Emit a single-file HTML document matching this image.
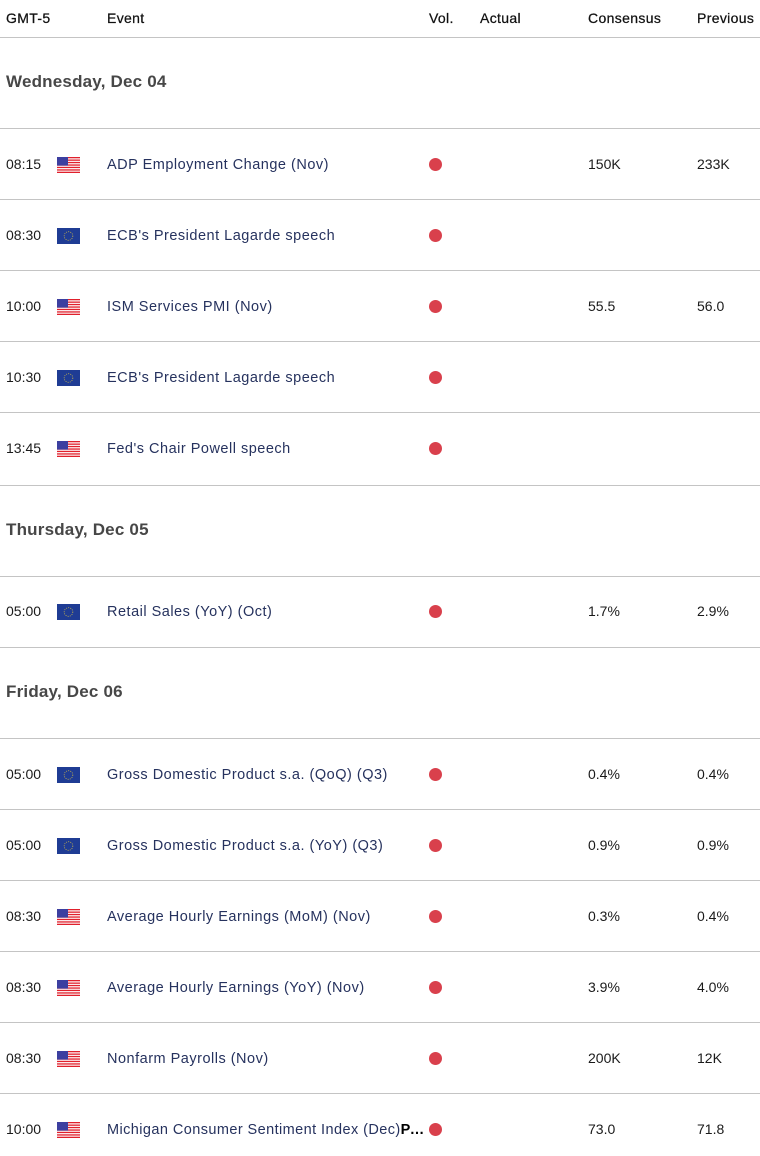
<!DOCTYPE html>
<html>
<head>
<meta charset="utf-8">
<style>
html,body{margin:0;padding:0;background:#fff;}
body{width:760px;height:1156px;position:relative;overflow:hidden;font-family:"Liberation Sans",sans-serif;}
.t{position:absolute;height:20px;line-height:20px;white-space:nowrap;font-size:14px;color:#1a1a1a;}
.h{color:#111;font-size:14px;letter-spacing:0.35px;-webkit-text-stroke:0.25px #111;}
.day{font-size:17px;font-weight:bold;color:#474747;letter-spacing:0.2px;}
.ev{color:#26325e;font-size:14.5px;letter-spacing:0.5px;margin-top:1px;}
.num{font-size:14px;color:#1a1a1a;letter-spacing:0;}
.line{position:absolute;left:0;width:760px;height:1px;background:#c4c4c4;}
.dot{position:absolute;width:13px;height:13px;border-radius:50%;background:#d9404c;}
.flag{position:absolute;width:23px;height:16px;}
</style>
</head>
<body>
<svg width="0" height="0" style="position:absolute">
<defs>
<symbol id="us" viewBox="0 0 23 16">
<rect width="23" height="16" fill="#fff"/>
<rect y="0" width="23" height="1.3" fill="#e0202c"/>
<rect y="2.5" width="23" height="1.3" fill="#e0202c"/>
<rect y="4.9" width="23" height="1.3" fill="#e0202c"/>
<rect y="7.4" width="23" height="1.3" fill="#e0202c"/>
<rect y="9.8" width="23" height="1.3" fill="#e0202c"/>
<rect y="12.3" width="23" height="1.3" fill="#e0202c"/>
<rect y="14.7" width="23" height="1.3" fill="#e0202c"/>
<rect width="11" height="8.6" fill="#3c3fa0"/>
</symbol>
<symbol id="eu" viewBox="0 0 23 16">
<rect width="23" height="16" fill="#1f3c94"/>
<circle cx="11.5" cy="8" r="4.3" fill="none" stroke="#c9b54a" stroke-width="0.8" stroke-dasharray="1 1.2"/>
</symbol>
</defs>
</svg>

<!-- header -->
<div class="t h" style="left:6px;top:8px;">GMT-5</div>
<div class="t h" style="left:107px;top:8px;">Event</div>
<div class="t h" style="left:429px;top:8px;">Vol.</div>
<div class="t h" style="left:480px;top:8px;">Actual</div>
<div class="t h" style="left:588px;top:8px;">Consensus</div>
<div class="t h" style="left:697px;top:8px;">Previous</div>
<div class="line" style="top:37px;"></div>

<!-- Wednesday -->
<div class="t day" style="left:6px;top:72px;">Wednesday, Dec 04</div>
<div class="line" style="top:128px;"></div>

<div class="t num" style="left:6px;top:154px;">08:15</div>
<svg class="flag" style="left:57px;top:157px;"><use href="#us"/></svg>
<div class="t ev" style="left:107px;top:154px;">ADP Employment Change (Nov)</div>
<div class="dot" style="left:429px;top:158px;"></div>
<div class="t num" style="left:588px;top:154px;">150K</div>
<div class="t num" style="left:697px;top:154px;">233K</div>
<div class="line" style="top:199px;"></div>

<div class="t num" style="left:6px;top:225px;">08:30</div>
<svg class="flag" style="left:57px;top:228px;"><use href="#eu"/></svg>
<div class="t ev" style="left:107px;top:225px;">ECB's President Lagarde speech</div>
<div class="dot" style="left:429px;top:229px;"></div>
<div class="line" style="top:270px;"></div>

<div class="t num" style="left:6px;top:296px;">10:00</div>
<svg class="flag" style="left:57px;top:299px;"><use href="#us"/></svg>
<div class="t ev" style="left:107px;top:296px;">ISM Services PMI (Nov)</div>
<div class="dot" style="left:429px;top:300px;"></div>
<div class="t num" style="left:588px;top:296px;">55.5</div>
<div class="t num" style="left:697px;top:296px;">56.0</div>
<div class="line" style="top:341px;"></div>

<div class="t num" style="left:6px;top:367px;">10:30</div>
<svg class="flag" style="left:57px;top:370px;"><use href="#eu"/></svg>
<div class="t ev" style="left:107px;top:367px;">ECB's President Lagarde speech</div>
<div class="dot" style="left:429px;top:371px;"></div>
<div class="line" style="top:412px;"></div>

<div class="t num" style="left:6px;top:438px;">13:45</div>
<svg class="flag" style="left:57px;top:441px;"><use href="#us"/></svg>
<div class="t ev" style="left:107px;top:438px;">Fed's Chair Powell speech</div>
<div class="dot" style="left:429px;top:442px;"></div>
<div class="line" style="top:485px;"></div>

<!-- Thursday -->
<div class="t day" style="left:6px;top:520px;">Thursday, Dec 05</div>
<div class="line" style="top:576px;"></div>

<div class="t num" style="left:6px;top:601px;">05:00</div>
<svg class="flag" style="left:57px;top:604px;"><use href="#eu"/></svg>
<div class="t ev" style="left:107px;top:601px;">Retail Sales (YoY) (Oct)</div>
<div class="dot" style="left:429px;top:605px;"></div>
<div class="t num" style="left:588px;top:601px;">1.7%</div>
<div class="t num" style="left:697px;top:601px;">2.9%</div>
<div class="line" style="top:647px;"></div>

<!-- Friday -->
<div class="t day" style="left:6px;top:682px;">Friday, Dec 06</div>
<div class="line" style="top:738px;"></div>

<div class="t num" style="left:6px;top:764px;">05:00</div>
<svg class="flag" style="left:57px;top:767px;"><use href="#eu"/></svg>
<div class="t ev" style="left:107px;top:764px;">Gross Domestic Product s.a. (QoQ) (Q3)</div>
<div class="dot" style="left:429px;top:768px;"></div>
<div class="t num" style="left:588px;top:764px;">0.4%</div>
<div class="t num" style="left:697px;top:764px;">0.4%</div>
<div class="line" style="top:809px;"></div>

<div class="t num" style="left:6px;top:835px;">05:00</div>
<svg class="flag" style="left:57px;top:838px;"><use href="#eu"/></svg>
<div class="t ev" style="left:107px;top:835px;">Gross Domestic Product s.a. (YoY) (Q3)</div>
<div class="dot" style="left:429px;top:839px;"></div>
<div class="t num" style="left:588px;top:835px;">0.9%</div>
<div class="t num" style="left:697px;top:835px;">0.9%</div>
<div class="line" style="top:880px;"></div>

<div class="t num" style="left:6px;top:906px;">08:30</div>
<svg class="flag" style="left:57px;top:909px;"><use href="#us"/></svg>
<div class="t ev" style="left:107px;top:906px;">Average Hourly Earnings (MoM) (Nov)</div>
<div class="dot" style="left:429px;top:910px;"></div>
<div class="t num" style="left:588px;top:906px;">0.3%</div>
<div class="t num" style="left:697px;top:906px;">0.4%</div>
<div class="line" style="top:951px;"></div>

<div class="t num" style="left:6px;top:977px;">08:30</div>
<svg class="flag" style="left:57px;top:980px;"><use href="#us"/></svg>
<div class="t ev" style="left:107px;top:977px;">Average Hourly Earnings (YoY) (Nov)</div>
<div class="dot" style="left:429px;top:981px;"></div>
<div class="t num" style="left:588px;top:977px;">3.9%</div>
<div class="t num" style="left:697px;top:977px;">4.0%</div>
<div class="line" style="top:1022px;"></div>

<div class="t num" style="left:6px;top:1048px;">08:30</div>
<svg class="flag" style="left:57px;top:1051px;"><use href="#us"/></svg>
<div class="t ev" style="left:107px;top:1048px;">Nonfarm Payrolls (Nov)</div>
<div class="dot" style="left:429px;top:1052px;"></div>
<div class="t num" style="left:588px;top:1048px;">200K</div>
<div class="t num" style="left:697px;top:1048px;">12K</div>
<div class="line" style="top:1093px;"></div>

<div class="t num" style="left:6px;top:1119px;">10:00</div>
<svg class="flag" style="left:57px;top:1122px;"><use href="#us"/></svg>
<div class="t ev" style="left:107px;top:1119px;letter-spacing:0.42px;">Michigan Consumer Sentiment Index (Dec)<b style="color:#000;letter-spacing:-0.5px;">P…</b></div>
<div class="dot" style="left:429px;top:1123px;"></div>
<div class="t num" style="left:588px;top:1119px;">73.0</div>
<div class="t num" style="left:697px;top:1119px;">71.8</div>
</body>
</html>
